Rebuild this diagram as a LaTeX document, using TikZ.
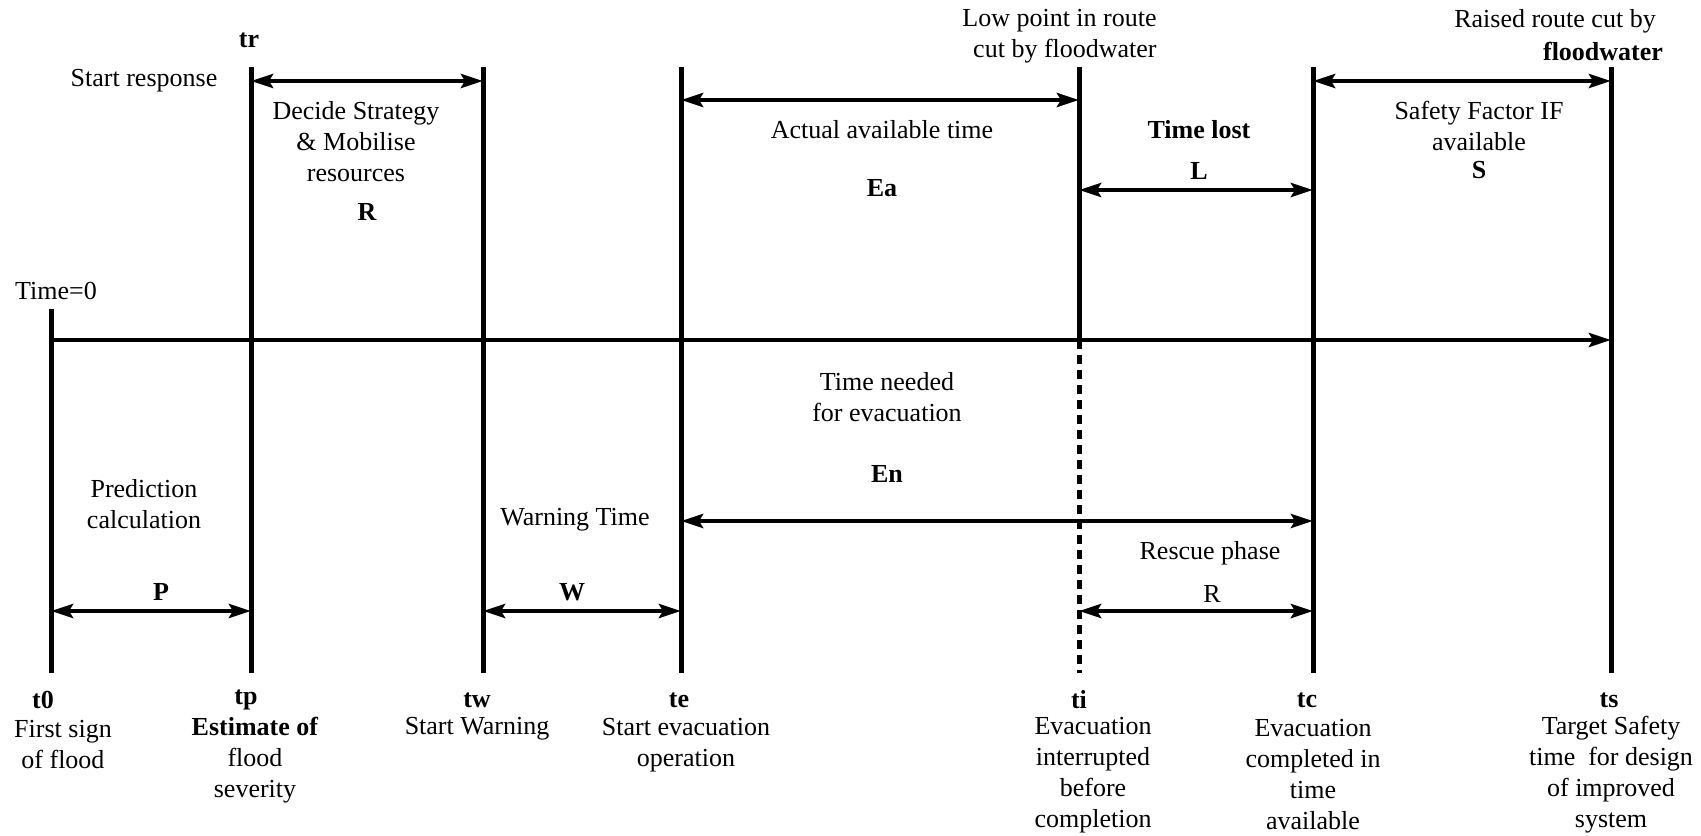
\documentclass[tikz,border=0pt]{standalone}
\usepackage{fontspec}
\setmainfont{Liberation Serif}
\usepackage{tikz}
\usetikzlibrary{arrows.meta, positioning}
\tikzstyle{timeline} = [line width=2.5pt]
\tikzstyle{interrupt} = [line width=2.5pt, dash pattern=on 4.5pt off 3pt]
\tikzstyle{arrow} = [line width=2.2pt, <->, >={Stealth[length=11pt, width=7pt, inset=2pt]}]
\tikzstyle{timeaxis} = [line width=2.2pt, ->, >={Stealth[length=11pt, width=7pt, inset=2pt]}]
\tikzstyle{txt} = [align=center, inner sep=0pt, font=\fontsize{13}{15.5}\selectfont]
\tikzstyle{tname} = [align=center, inner sep=0pt, font=\fontsize{13}{15.5}\selectfont\bfseries]

\begin{document}
\begin{tikzpicture}[x=0.5pt, y=-0.5pt]
    \useasboundingbox (0,0) rectangle (1701,835);

    % Time Line Positions
    \coordinate (t0) at (51,340);
    \coordinate (t0-top) at (51,309);
    \coordinate (t0-bot) at (51,673);
    \foreach \name/\x in {tp/251, tw/483, te/681, ti/1079, tc/1313, ts/1611} {
        \coordinate (\name) at (\x,340);
        \coordinate (\name-top) at (\x,67);
        \coordinate (\name-bot) at (\x,673);
    }

    % Arrow Levels
    \coordinate (lvl-r) at (0,81);
    \coordinate (lvl-ea) at (0,100);
    \coordinate (lvl-l) at (0,190);
    \coordinate (lvl-en) at (0,521);
    \coordinate (lvl-p) at (0,611);

    % Vertical Lines
    \draw [timeline] (t0-top) -- (t0-bot);
    \foreach \name in {tp, tw, te, tc, ts}
        \draw [timeline] (\name-top) -- (\name-bot);
    \draw [timeline] (ti-top) -- (ti);
    \draw [interrupt] (ti) -- (ti-bot);

    % Connection Arrows
    \draw [timeaxis] (t0) -- (ts);
    \draw [arrow] (tp |- lvl-r) -- (tw |- lvl-r);
    \draw [arrow] (te |- lvl-ea) -- (ti |- lvl-ea);
    \draw [arrow] (tc |- lvl-r) -- (ts |- lvl-r);
    \draw [arrow] (ti |- lvl-l) -- (tc |- lvl-l);
    \draw [arrow] (te |- lvl-en) -- (tc |- lvl-en);
    \draw [arrow] (t0 |- lvl-p) -- (tp |- lvl-p);
    \draw [arrow] (tw |- lvl-p) -- (te |- lvl-p);
    \draw [arrow] (ti |- lvl-p) -- (tc |- lvl-p);

    % Upper Labels
    \node [tname] (tr-lab) at (249,40) {tr};
    \node [txt] (startresp) at (144,81) {Start response};
    \node [txt] (decide) at (356,142) {Decide Strategy\\\& Mobilise\\resources};
    \node [tname] (r-up) at (367,212) {R};
    \node [txt] (time0) at (56,291) {Time=0};
    \node [txt, anchor=east, align=right] (lowpoint) at (1157,36) {Low point in route\\cut by floodwater};
    \node [txt] (raised) at (1555,21) {Raised route cut by};
    \node [tname] (raised-b) at (1603,51) {floodwater};
    \node [txt] (actual) at (882,130) {Actual available time};
    \node [tname] (ea) at (882,188) {Ea};
    \node [tname] (timelost) at (1199,130) {Time lost};
    \node [tname] (l) at (1199,171) {L};
    \node [txt] (safety) at (1479,126) {Safety Factor IF\\available};
    \node [tname] (s) at (1479,170) {S};

    % Lower Labels
    \node [txt] (needed) at (887,397) {Time needed\\for evacuation};
    \node [tname] (en) at (887,474) {En};
    \node [txt] (predict) at (144,504) {Prediction\\calculation};
    \node [txt] (warning) at (575,520) {Warning Time};
    \node [txt] (rescue) at (1210,553) {Rescue phase};
    \node [tname] (p) at (161,592) {P};
    \node [tname] (w) at (572,592) {W};
    \node [txt] (r-low) at (1212,594) {R};

    % Time Names
    \node [tname] (t0-lab) at (43,700) {t0};
    \node [tname] (tp-lab) at (246,700) {tp};
    \node [tname] (tw-lab) at (477,700) {tw};
    \node [tname] (te-lab) at (679,700) {te};
    \node [tname] (ti-lab) at (1079,700) {ti};
    \node [tname] (tc-lab) at (1307,700) {tc};
    \node [tname] (ts-lab) at (1609,700) {ts};

    % Event Descriptions
    \node [txt] (first) at (63,745) {First sign\\of flood};
    \node [txt] (estimate) at (255,760) {\textbf{Estimate of}\\flood\\severity};
    \node [txt] (startwarn) at (477,729) {Start Warning};
    \node [txt] (startevac) at (686,745) {Start evacuation\\operation};
    \node [txt] (interrupted) at (1093,775) {Evacuation\\interrupted\\before\\completion};
    \node [txt] (completed) at (1313,775) {Evacuation\\completed in\\time\\available};
    \node [txt] (target) at (1611,775) {Target Safety\\time~ for design\\of improved\\system};
\end{tikzpicture}
\end{document}
